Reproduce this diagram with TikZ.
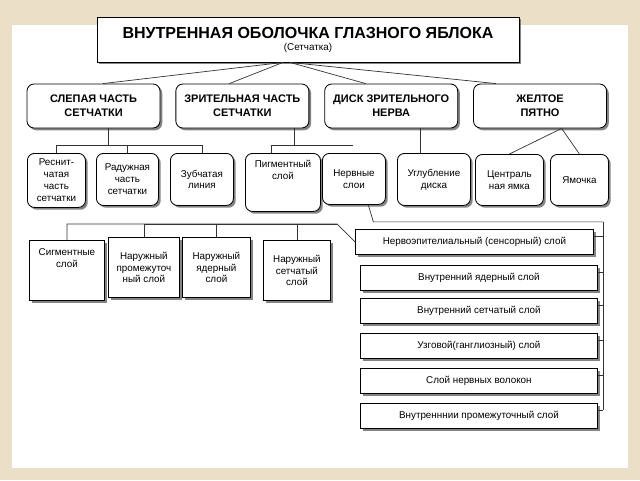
\documentclass[tikz,border=0pt]{standalone}
\usepackage{fontspec}
\setmainfont{Liberation Sans}
\usetikzlibrary{positioning,shadows}
\definecolor{slidebg}{RGB}{236,223,200}

\tikzset{
  box/.style={draw,rectangle,fill=white,line width=0.6pt,align=center,inner sep=1pt,
    font=\fontsize{7}{8.5}\selectfont,
    drop shadow={shadow xshift=1.6pt,shadow yshift=-1.6pt,fill=black!60,opacity=0.8}},
  rbox/.style={box,rounded corners=5pt},
  head/.style={rbox,minimum width=3.325cm,minimum height=1.1cm,font=\bfseries\fontsize{7.8}{10}\selectfont},
  leaf/.style 2 args={rbox,anchor=north west,minimum width=#1,minimum height=#2},
  sublayer/.style 2 args={box,anchor=north west,minimum width=#1,minimum height=#2},
  layer/.style={box,anchor=north west,minimum width=5.925cm,minimum height=0.625cm},
  link/.style={draw=black!80,line width=0.5pt},
}

\begin{document}
\begin{tikzpicture}
  \useasboundingbox (0,0) rectangle (16,-12);
  \fill[slidebg] (0,0) rectangle (16,-12);
  \fill[white] (0.3,-0.625) rectangle (15.7,-11.7);

  % title
  \node[box,minimum width=10.55cm,minimum height=1.125cm] (title) at (7.7,-0.9875)
    {{\bfseries\fontsize{11.4}{12}\selectfont ВНУТРЕННАЯ ОБОЛОЧКА ГЛАЗНОГО ЯБЛОКА}\\[0pt]{\fontsize{7}{8}\selectfont (Сетчатка)}};

  % main parts
  \node[head] (blind) at (2.3375,-2.65) {СЛЕПАЯ ЧАСТЬ\\СЕТЧАТКИ};
  \node[head,right=0.375cm of blind] (visual) {ЗРИТЕЛЬНАЯ ЧАСТЬ\\СЕТЧАТКИ};
  \node[head,right=0.375cm of visual] (disc) {ДИСК ЗРИТЕЛЬНОГО\\НЕРВА};
  \node[head,right=0.375cm of disc] (macula) {ЖЕЛТОЕ\\ПЯТНО};

  % second row
  \node[leaf={1.45cm}{1.35cm}] (cil) at (0.675,-3.825) {Реснит-\\чатая\\часть\\сетчатки};
  \node[leaf={1.55cm}{1.3cm}] (rad) at (2.4,-3.825) {Радужная\\часть\\сетчатки};
  \node[leaf={1.575cm}{1.3cm}] (zub) at (4.25,-3.825) {Зубчатая\\линия};
  \node[leaf={1.875cm}{1.45cm}] (pig) at (6.125,-3.825) {Пигментный\\слой\\[9pt]};
  \node[leaf={1.575cm}{1.275cm}] (nerv) at (8.05,-3.825) {Нервные\\слои};
  \node[leaf={1.825cm}{1.3cm}] (ugl) at (9.925,-3.825) {Углубление\\диска};
  \node[leaf={1.7cm}{1.275cm}] (cen) at (11.875,-3.85) {Централь\\ная ямка};
  \node[leaf={1.45cm}{1.275cm}] (yam) at (13.75,-3.85) {Ямочка};

  % layers, left group
  \node[sublayer={1.875cm}{1.5cm}] (sig) at (0.725,-6.0) {Сигментные\\слой\\[9pt]};
  \node[sublayer={1.775cm}{1.5cm}] (npr) at (2.7,-5.925) {Наружный\\промежуточ\\ный слой};
  \node[sublayer={1.7cm}{1.5cm}] (nyad) at (4.55,-5.925) {Наружный\\ядерный\\слой};
  \node[sublayer={1.675cm}{1.5cm}] (nset) at (6.575,-6.0) {Наружный\\сетчатый\\слой};

  % layers, right group
  \node[layer,minimum width=5.95cm] (neuro) at (8.875,-5.725) {Нервоэпителиальный (сенсорный) слой};
  \node[layer] (inuc) at (9.0,-6.625) {Внутренний ядерный слой};
  \node[layer] (iplex) at (9.0,-7.45) {Внутренний сетчатый слой};
  \node[layer] (gang) at (9.0,-8.325) {Узговой(ганглиозный) слой};
  \node[layer] (fib) at (9.0,-9.2) {Слой нервных волокон};
  \node[layer] (iinter) at (9.0,-10.075) {Внутренннии промежуточный слой};

  % connectors
  \draw[link] ([xshift=-0.625cm]title.south) -- ([xshift=0.2375cm]blind.north);
  \draw[link] ([xshift=-0.625cm]title.south) -- ([xshift=-0.325cm]visual.north);
  \draw[link] ([xshift=-0.45cm]title.south) -- ([xshift=-0.6375cm]disc.north);
  \draw[link] ([xshift=-0.45cm]title.south) -- ([xshift=-1.1cm]macula.north);

  \draw[link] ([xshift=0.36cm]blind.south) -- ++(0,-0.425) coordinate (bfork);
  \draw[link] (cil.north) |- (bfork) -| (zub.north);
  \draw[link] (rad.north) -- (rad.north |- bfork);
  \draw[link] ([xshift=1.3cm]visual.south) -- ++(0,-0.425) coordinate (vfork);
  \draw[link] ([xshift=-0.3cm]pig.north) |- (vfork) -- ++(1.475,0) coordinate (vend);
  \draw[link] ([xshift=0.74cm]disc.south) coordinate (dfork) -- (dfork |- ugl.north);
  \draw[link] ([xshift=0.54cm]macula.south) coordinate (mfork) -- (cen.north);
  \draw[link] (mfork) -- (yam.north);

  \draw[link] ([xshift=0.36cm]nerv.south) -- ++(0.125,-0.425) coordinate (rtop) -- ++(5.75,0) coordinate (rbus);
  \draw[link] (rbus) -- ([yshift=0.15cm]rbus |- iinter.east);
  \foreach \n in {neuro,inuc,iplex,gang,fib,iinter}
    \draw[link] ([yshift=0.15cm]\n.east) -- ([yshift=0.15cm]\n.east -| rbus);

  \draw[link] (neuro.west) -- ++(-0.45,0.45) coordinate (lbus) -| (sig.north);
  \foreach \n in {npr,nyad,nset}
    \draw[link] (\n.north) |- (lbus);
\end{tikzpicture}
\end{document}
